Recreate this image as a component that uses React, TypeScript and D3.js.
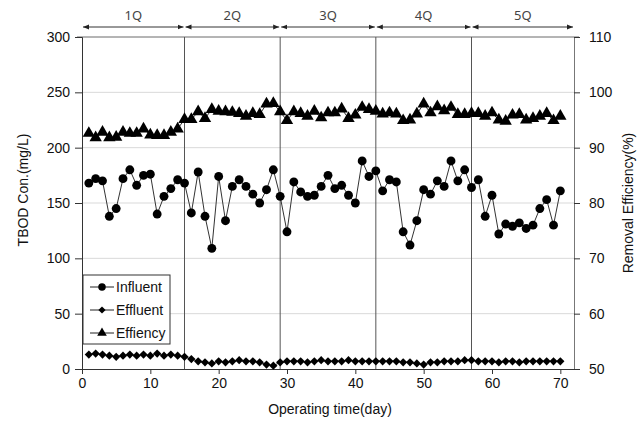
import { useEffect, useRef } from 'react'
import * as d3 from 'd3'

// daily readings, day 1..70
const influent = [
  168, 172, 170, 138, 145, 172, 180, 166, 175, 176,
  140, 156, 163, 171, 168, 141, 178, 138, 109, 174,
  134, 165, 171, 165, 158, 150, 162, 180, 156, 124,
  169, 160, 156, 157, 165, 175, 163, 166, 157, 150,
  188, 174, 179, 161, 171, 169, 124, 112, 134, 162,
  158, 170, 165, 188, 170, 180, 164, 171, 138, 157,
  122, 131, 129, 132, 127, 130, 145, 153, 130, 161
]
const effluent = [
  13, 14, 13, 12, 11, 12, 13, 12, 13, 12,
  14, 12, 13, 12, 11, 9, 7, 6, 5, 7,
  6, 7, 8, 7, 7, 6, 4, 3, 6, 7,
  7, 7, 6, 7, 8, 7, 7, 7, 8, 7,
  7, 7, 7, 7, 7, 7, 6, 6, 5, 4,
  6, 6, 7, 7, 7, 8, 8, 7, 7, 7,
  6, 7, 7, 6, 7, 7, 7, 7, 7, 7
]
const efficiency = [
  92.6, 91.8, 92.8, 91.8, 91.9, 92.8, 92.6, 92.6, 93.4, 92.3,
  92.2, 92.2, 92.8, 93.4, 95.1, 95.1, 96.5, 95.3, 96.9, 96.6,
  96.5, 96.4, 96.2, 95.7, 96.2, 96.0, 97.9, 98.0, 96.5, 94.9,
  96.5, 96.2, 95.7, 96.6, 95.4, 96.3, 96.3, 97.0, 95.3, 95.9,
  97.3, 96.9, 96.6, 96.1, 96.3, 96.1, 94.9, 95.0, 96.1, 97.9,
  96.3, 97.4, 96.7, 97.3, 96.0, 96.0, 96.2, 96.2, 95.7, 96.3,
  95.0, 94.8, 95.9, 96.0, 95.0, 95.3, 95.7, 96.2, 94.9, 95.7
]
const quarters = ['1Q', '2Q', '3Q', '4Q', '5Q']
const quarterBounds = [0, 15, 29, 43, 57, 72]
const leftTicks = [0, 50, 100, 150, 200, 250, 300]
const rightTicks = [50, 60, 70, 80, 90, 100, 110]
const xTicks = [0, 10, 20, 30, 40, 50, 60, 70]

const App = () => {
  const ref = useRef<SVGSVGElement>(null)

  useEffect(() => {
    const width = 644
    const height = 424
    const left = 82, right = 574, top = 37, bottom = 369
    const font = 'Liberation Sans, Arial, sans-serif'

    const svg = d3.select(ref.current)
    svg.selectAll('*').remove()
    svg.attr('width', width).attr('height', height)

    const x = d3.scaleLinear().domain([0, 72]).range([left, right])
    const y = d3.scaleLinear().domain([0, 300]).range([bottom, top])
    const y2 = d3.scaleLinear().domain([50, 110]).range([bottom, top])
    const days = influent.map((_, i) => i + 1)

    // grid
    svg.append('g')
      .selectAll('line')
      .data(leftTicks.filter(d => d > 0 && d < 300))
      .enter()
      .append('line')
      .attr('x1', left).attr('x2', right)
      .attr('y1', d => y(d)).attr('y2', d => y(d))
      .attr('stroke', '#d9d9d9')

    svg.append('line')
      .attr('x1', left - 5).attr('x2', right + 5)
      .attr('y1', top).attr('y2', top)
      .attr('stroke', '#6a6a6a')

    // quarter dividers
    svg.append('g')
      .selectAll('line')
      .data(quarterBounds.slice(1, -1))
      .enter()
      .append('line')
      .attr('x1', d => x(d)).attr('x2', d => x(d))
      .attr('y1', top).attr('y2', bottom)
      .attr('stroke', '#555')

    // axes
    const gl = svg.append('g')
      .attr('transform', `translate(${left},0)`)
      .call(d3.axisLeft(y).tickValues(leftTicks).tickSize(7).tickPadding(5))
    const gr = svg.append('g')
      .attr('transform', `translate(${right},0)`)
      .call(d3.axisRight(y2).tickValues(rightTicks).tickSize(6).tickPadding(9))
    const gb = svg.append('g')
      .attr('transform', `translate(0,${bottom})`)
      .call(d3.axisBottom(x).tickValues(xTicks).tickSize(5).tickPadding(4).tickSizeOuter(0))
    ;[gl, gr, gb].forEach(g => {
      g.select('.domain').attr('stroke', '#333')
      g.selectAll('.tick line').attr('stroke', '#333')
      g.selectAll('text').style('font-family', font).style('font-size', '14px').attr('fill', '#111')
    })
    gr.select('.domain').attr('stroke', '#777')

    // quarter arrows
    const defs = svg.append('defs')
    defs.append('marker')
      .attr('id', 'arr')
      .attr('viewBox', '0 0 10 10')
      .attr('refX', 10).attr('refY', 5)
      .attr('markerWidth', 6).attr('markerHeight', 6)
      .attr('orient', 'auto-start-reverse')
      .append('path')
      .attr('d', 'M0,1L10,5L0,9Z')
      .attr('fill', '#222')

    const qg = svg.append('g')
    quarters.forEach((q, i) => {
      const a = x(quarterBounds[i]) + 1
      const b = x(quarterBounds[i + 1]) - 1
      qg.append('line')
        .attr('x1', a).attr('x2', b)
        .attr('y1', 27).attr('y2', 27)
        .attr('stroke', '#333')
        .attr('marker-start', 'url(#arr)')
        .attr('marker-end', 'url(#arr)')
      qg.append('text')
        .attr('x', (a + b) / 2).attr('y', 20)
        .attr('text-anchor', 'middle')
        .style('font-family', 'Noto Sans, sans-serif')
        .style('font-size', '13px')
        .attr('fill', '#444')
        .text(q)
    })

    // series
    const lineL = d3.line<number>().x((_, i) => x(days[i])).y(d => y(d))
    const lineR = d3.line<number>().x((_, i) => x(days[i])).y(d => y2(d))

    const drawSeries = (vals: number[], path: any, sc: any, sym: any, size: number, rot: number) => {
      svg.append('path')
        .datum(vals)
        .attr('d', path)
        .attr('fill', 'none')
        .attr('stroke', '#333')
        .attr('stroke-width', 1)
      svg.append('g')
        .selectAll('path')
        .data(vals)
        .enter()
        .append('path')
        .attr('d', d3.symbol().type(sym).size(size)())
        .attr('transform', (d, i) => `translate(${x(days[i])},${sc(d)}) rotate(${rot})`)
        .attr('fill', '#000')
    }
    drawSeries(effluent, lineL, y, d3.symbolSquare, 34, 45)
    drawSeries(efficiency, lineR, y2, d3.symbolTriangle, 66, 0)
    drawSeries(influent, lineL, y, d3.symbolCircle, 62, 0)

    // legend
    const lg = svg.append('g').attr('transform', 'translate(83,275)')
    lg.append('rect')
      .attr('width', 87).attr('height', 69)
      .attr('fill', '#fff').attr('stroke', '#333')
    const items = [
      { name: 'Influent', sym: d3.symbolCircle, size: 44, rot: 0 },
      { name: 'Effluent', sym: d3.symbolSquare, size: 26, rot: 45 },
      { name: 'Effiency', sym: d3.symbolTriangle, size: 40, rot: 0 }
    ]
    items.forEach((it, i) => {
      const cy = 12 + i * 23
      lg.append('line')
        .attr('x1', 7).attr('x2', 31)
        .attr('y1', cy).attr('y2', cy)
        .attr('stroke', '#222')
      lg.append('path')
        .attr('d', d3.symbol().type(it.sym).size(it.size)())
        .attr('transform', `translate(19,${cy}) rotate(${it.rot})`)
        .attr('fill', '#000')
      lg.append('text')
        .attr('x', 33).attr('y', cy + 5)
        .style('font-family', font)
        .style('font-size', '14px')
        .attr('fill', '#111')
        .text(it.name)
    })

    // titles
    svg.append('text')
      .attr('transform', `translate(28,190) rotate(-90)`)
      .attr('text-anchor', 'middle')
      .style('font-family', font).style('font-size', '14px')
      .attr('fill', '#111')
      .text('TBOD Con.(mg/L)')
    svg.append('text')
      .attr('transform', `translate(633,203) rotate(-90)`)
      .attr('text-anchor', 'middle')
      .style('font-family', font).style('font-size', '14px')
      .attr('fill', '#111')
      .text('Removal Efficiency(%)')
    svg.append('text')
      .attr('x', 330).attr('y', 414)
      .attr('text-anchor', 'middle')
      .style('font-family', font).style('font-size', '14px')
      .attr('fill', '#111')
      .text('Operating time(day)')
  }, [])

  return (
    <div style={{ position: 'absolute', left: 0, top: 0, background: '#fff' }}>
      <svg ref={ref}></svg>
    </div>
  )
}

export default App
